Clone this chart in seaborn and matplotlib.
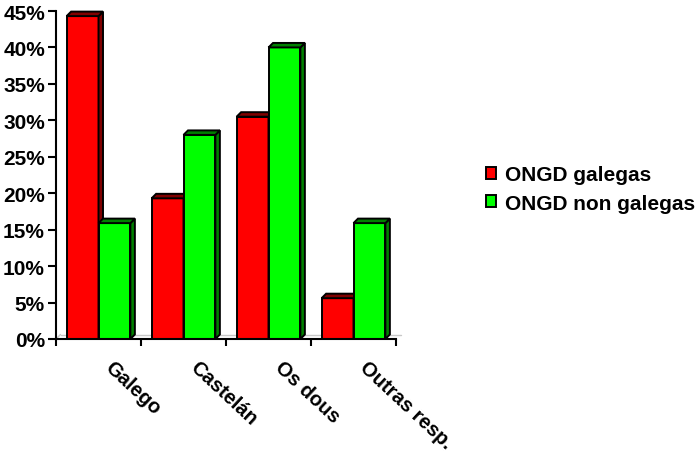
import pandas as pd
import matplotlib
matplotlib.use("Agg")
import matplotlib.pyplot as plt
import matplotlib.transforms as mtransforms
import seaborn as sns
from matplotlib.patches import Polygon, Patch
from matplotlib.ticker import PercentFormatter

# Data (percent of answers)
categories = ["Galego", "Castelán", "Os dous", "Outras resp."]
series_names = ["ONGD galegas", "ONGD non galegas"]
galegas = [44.3, 19.3, 30.5, 5.6]
non_galegas = [15.9, 28.0, 40.0, 15.9]
y_ticks = [0, 5, 10, 15, 20, 25, 30, 35, 40, 45]

front_colors = {"ONGD galegas": "#ff0000", "ONGD non galegas": "#00ff00"}
shade_colors = {"ONGD galegas": "#800000", "ONGD non galegas": "#008000"}

df = pd.DataFrame({
    "Lingua": categories * 2,
    "Serie": [series_names[0]] * 4 + [series_names[1]] * 4,
    "Pct": galegas + non_galegas,
})

sns.set_style("white")
plt.rcParams["font.family"] = ["Liberation Sans", "DejaVu Sans"]
plt.rcParams["font.weight"] = "bold"
plt.rcParams["text.color"] = "black"
plt.rcParams["xtick.color"] = "black"
plt.rcParams["ytick.color"] = "black"

fig = plt.figure(figsize=(6.99, 4.56), dpi=100)
ax = fig.add_axes([56 / 699, 1 - 340 / 456, 340 / 699, 328 / 456])

sns.barplot(
    data=df, x="Lingua", y="Pct", hue="Serie",
    palette=front_colors, width=0.75, gap=0,
    edgecolor="black", linewidth=1.4, saturation=1,
    legend=False, ax=ax,
)

ax.set_xlim(-0.5, len(categories) - 0.5)
ax.set_ylim(0, 45)

# fake 3D depth (a few pixels) for each bar
depth_px = 4.5
ax_w = ax.get_position().width * fig.get_figwidth() * fig.dpi
ax_h = ax.get_position().height * fig.get_figheight() * fig.dpi
dx = depth_px * (ax.get_xlim()[1] - ax.get_xlim()[0]) / ax_w
dy = depth_px * (ax.get_ylim()[1] - ax.get_ylim()[0]) / ax_h

for k, (name, cont) in enumerate(zip(series_names, ax.containers)):
    for bar in cont:
        x0 = bar.get_x()
        x1 = x0 + bar.get_width()
        y1 = bar.get_height()
        bar.set_zorder(2 + k)
        side = Polygon([(x1, 0), (x1 + dx, dy), (x1 + dx, y1 + dy), (x1, y1)],
                       closed=True, facecolor=shade_colors[name],
                       edgecolor="black", linewidth=1.4, zorder=2 + k, clip_on=False)
        top = Polygon([(x0, y1), (x1, y1), (x1 + dx, y1 + dy), (x0 + dx, y1 + dy)],
                      closed=True, facecolor=shade_colors[name],
                      edgecolor="black", linewidth=1.4, zorder=2 + k, clip_on=False)
        ax.add_patch(side)
        ax.add_patch(top)

# floor of the 3D box
xl = ax.get_xlim()
ax.plot([xl[0] + dx, xl[1] + dx], [dy, dy], color="#c8c8c8", lw=1, zorder=1, clip_on=False)
ax.plot([xl[0], xl[0] + dx], [0, dy], color="#c8c8c8", lw=1, zorder=1, clip_on=False)

# axes styling
for s in ["top", "right"]:
    ax.spines[s].set_visible(False)
for s in ["left", "bottom"]:
    ax.spines[s].set_linewidth(1.5)
    ax.spines[s].set_color("black")
    ax.spines[s].set_zorder(5)

ax.set_yticks(y_ticks)
ax.yaxis.set_major_formatter(PercentFormatter(xmax=100, decimals=0))
ax.tick_params(axis="y", direction="out", length=6, width=1.5, pad=2,
               labelsize=15, left=True, colors="black")

centers = list(range(len(categories)))
bounds = [c - 0.5 for c in centers] + [centers[-1] + 0.5]
ax.set_xticks(bounds)
ax.set_xticklabels([])
ax.set_xticks(centers, categories, minor=True)
ax.tick_params(axis="x", which="major", direction="out", length=5, width=1.5,
               bottom=True, colors="black")
ax.tick_params(axis="x", which="minor", length=0, pad=18, labelsize=14.5, colors="black")
shift = mtransforms.ScaledTranslation(9 / 100, 0, fig.dpi_scale_trans)
for lab in ax.get_xticklabels(minor=True):
    lab.set_rotation(-43)
    lab.set_rotation_mode("anchor")
    lab.set_ha("left")
    lab.set_va("center")
    lab.set_fontweight("bold")
    lab.set_transform(lab.get_transform() + shift)
for lab in ax.get_yticklabels():
    lab.set_fontweight("bold")

ax.set_xlabel("")
ax.set_ylabel("")

handles = [Patch(facecolor=front_colors[n], edgecolor="black", linewidth=1.4) for n in series_names]
fig.legend(handles, series_names, loc="center left",
           bbox_to_anchor=(486 / 699, 1 - 190 / 456), frameon=False,
           prop={"size": 15, "weight": "bold"}, labelcolor="black",
           handlelength=0.5, handleheight=0.5, handletextpad=0.4,
           labelspacing=0.45, borderpad=0, borderaxespad=0)

fig.savefig("out.png", dpi=100)
